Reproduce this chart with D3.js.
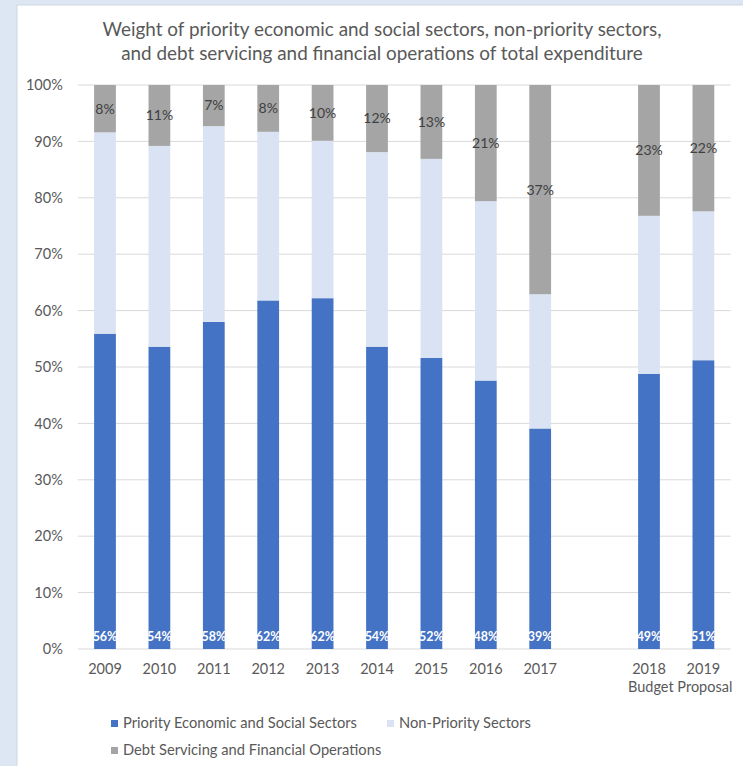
<!DOCTYPE html>
<html>
<head>
<meta charset="utf-8">
<script src="https://cdn.jsdelivr.net/npm/d3@7"></script>
<style>
  body { margin: 0; background: #dde7f3; }
  svg { display: block; font-family: Lato, "Open Sans", sans-serif; }
</style>
</head>
<body>
<svg id="chart" width="743" height="766"></svg>
<script>
var categories = ["2009", "2010", "2011", "2012", "2013", "2014", "2015", "2016", "2017", "2018", "2019"];
var priority = [55.9, 53.6, 58.0, 61.8, 62.2, 53.6, 51.6, 47.6, 39.1, 48.8, 51.2];
var nonPriority = [35.7, 35.6, 34.7, 29.9, 27.9, 34.5, 35.3, 31.8, 23.8, 28.0, 26.4];
var debt = [8.4, 10.8, 7.3, 8.3, 9.9, 11.9, 13.1, 20.6, 37.1, 23.2, 22.4];

var seriesNames = ["Priority Economic and Social Sectors", "Non-Priority Sectors", "Debt Servicing and Financial Operations"];
var colors = ["#4472c4", "#dae3f3", "#a5a5a5"];
var titleLines = ["Weight of priority economic and social sectors, non-priority sectors,",
                  "and debt servicing and financial operations of total expenditure"];

var svg = d3.select("#chart");

// panel
svg.append("rect").attr("width", 743).attr("height", 766).attr("fill", "#dde7f3");
svg.append("rect").attr("x", 17).attr("y", 5).attr("width", 730).attr("height", 765)
  .attr("fill", "#ffffff").attr("stroke", "#cfd6de");

// rows for the stack
var rows = categories.map(function (c, i) {
  return { year: c, p: priority[i] / 100, n: nonPriority[i] / 100, d: debt[i] / 100 };
});
var stacked = d3.stack().keys(["p", "n", "d"])(rows);

// empty slot between actual years and the budget years
var xDomain = categories.slice(0, 9).concat(["gap"], categories.slice(9));

var x = d3.scaleBand().domain(xDomain).range([77.8, 730.6]).paddingInner(0.6).paddingOuter(0.3);
var y = d3.scaleLinear().domain([0, 1]).range([649, 85]);

// gridlines
svg.append("g").selectAll("line")
  .data(y.ticks(10))
  .join("line")
  .attr("x1", 77.8).attr("x2", 730.6)
  .attr("y1", d => y(d)).attr("y2", d => y(d))
  .attr("stroke", "#d9d9d9").attr("stroke-width", 1);

var yAxis = svg.append("g")
  .attr("transform", "translate(77.8,0)")
  .call(d3.axisLeft(y).ticks(10).tickFormat(d3.format(".0%")).tickSize(0).tickPadding(15));
yAxis.select(".domain").remove();
yAxis.selectAll("text").attr("fill", "#595959").style("font-size", "14.5px").style("font-family", "Lato");

var xAxis = svg.append("g")
  .attr("transform", "translate(0,649)")
  .call(d3.axisBottom(x).tickSize(0).tickPadding(15).tickFormat(d => d == "gap" ? "" : d));
xAxis.select(".domain").remove();
xAxis.selectAll("text").attr("fill", "#595959").style("font-size", "14.5px").style("font-family", "Lato");

svg.append("text")
  .attr("x", (x("2018") + x("2019") + x.bandwidth()) / 2 + 4)
  .attr("y", 692)
  .attr("text-anchor", "middle")
  .attr("fill", "#595959")
  .style("font-size", "14.5px")
  .text("Budget Proposal");

// bars
svg.append("g").selectAll("g")
  .data(stacked)
  .join("g")
  .attr("fill", (d, i) => colors[i])
  .selectAll("rect")
  .data(d => d)
  .join("rect")
  .attr("x", d => x(d.data.year))
  .attr("width", x.bandwidth())
  .attr("y", d => y(d[1]))
  .attr("height", d => y(d[0]) - y(d[1]));

// debt labels, centred in the grey segment
svg.append("g").selectAll("text")
  .data(stacked[2])
  .join("text")
  .attr("x", d => x(d.data.year) + x.bandwidth() / 2)
  .attr("y", d => (y(d[0]) + y(d[1])) / 2)
  .attr("dy", "0.35em")
  .attr("text-anchor", "middle")
  .attr("fill", "#404040")
  .style("font-size", "14px")
  .text(d => d3.format(".0%")(d.data.d));

// priority labels at the base
svg.append("g").selectAll("text")
  .data(stacked[0])
  .join("text")
  .attr("x", d => x(d.data.year) + x.bandwidth() / 2)
  .attr("y", y(0) - 8)
  .attr("text-anchor", "middle")
  .attr("fill", "#ffffff")
  .style("font-size", "12.5px")
  .style("font-weight", "bold")
  .text(d => d3.format(".0%")(d.data.p));

// title
svg.append("g").selectAll("text")
  .data(titleLines)
  .join("text")
  .attr("x", 382)
  .attr("y", (d, i) => 36 + i * 24)
  .attr("text-anchor", "middle")
  .attr("fill", "#595959")
  .style("font-size", "18.9px")
  .text(d => d);

// legend
var legendPos = [[111, 720], [387, 720], [111, 747]];
var legend = svg.append("g").selectAll("g")
  .data(seriesNames)
  .join("g")
  .attr("transform", (d, i) => "translate(" + legendPos[i][0] + "," + legendPos[i][1] + ")");
legend.append("rect").attr("width", 7).attr("height", 7).attr("fill", (d, i) => colors[i]);
legend.append("text")
  .attr("x", 12).attr("y", 7.5)
  .attr("fill", "#595959")
  .style("font-size", "14.7px")
  .text(d => d);
</script>
</body>
</html>
